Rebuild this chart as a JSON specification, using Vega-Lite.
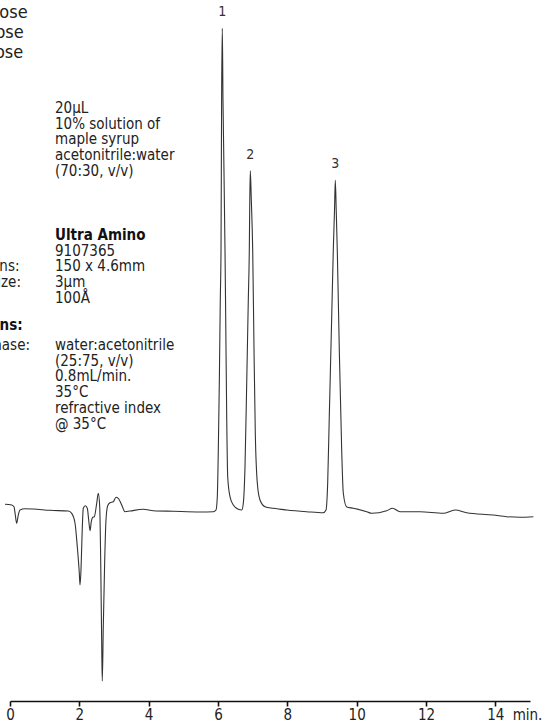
{
  "$schema": "https://vega.github.io/schema/vega-lite/v6.json",
  "width": 520,
  "height": 701,
  "autosize": {"type": "none"},
  "padding": {"left": 10, "right": 13, "top": 0, "bottom": 22},
  "background": "white",
  "config": {"view": {"stroke": null}, "font": "DejaVu Sans Condensed, Roboto, sans-serif"},
  "datasets": {
    "trace": [
      {"time": -0.144, "signal": 7.7}, {"time": 0.049, "signal": 7.0}, {"time": 0.115, "signal": 5.3},
      {"time": 0.153, "signal": -3.0}, {"time": 0.193, "signal": -11.3}, {"time": 0.239, "signal": -3.0},
      {"time": 0.288, "signal": 2.0}, {"time": 0.433, "signal": 3.3}, {"time": 0.672, "signal": 3.0},
      {"time": 1.154, "signal": 1.7}, {"time": 1.682, "signal": 1.0}, {"time": 1.78, "signal": -1.3},
      {"time": 1.875, "signal": -11.0}, {"time": 1.941, "signal": -34.7}, {"time": 1.999, "signal": -61.0},
      {"time": 2.019, "signal": -73.0}, {"time": 2.048, "signal": -58.0}, {"time": 2.077, "signal": -24.7},
      {"time": 2.114, "signal": 3.7}, {"time": 2.172, "signal": 6.3}, {"time": 2.23, "signal": 3.7},
      {"time": 2.27, "signal": -8.0}, {"time": 2.308, "signal": -18.7}, {"time": 2.345, "signal": -9.7},
      {"time": 2.386, "signal": -5.3}, {"time": 2.432, "signal": -4.7}, {"time": 2.501, "signal": 8.7},
      {"time": 2.547, "signal": 18.7}, {"time": 2.588, "signal": 5.3}, {"time": 2.616, "signal": -48.0},
      {"time": 2.645, "signal": -131.0}, {"time": 2.662, "signal": -169.0}, {"time": 2.691, "signal": -114.7},
      {"time": 2.732, "signal": -48.0}, {"time": 2.769, "signal": -8.0}, {"time": 2.818, "signal": 6.3},
      {"time": 2.885, "signal": 9.3}, {"time": 2.98, "signal": 10.3}, {"time": 3.058, "signal": 14.7},
      {"time": 3.124, "signal": 13.7}, {"time": 3.222, "signal": 7.0}, {"time": 3.317, "signal": 0.3},
      {"time": 3.462, "signal": 1.0}, {"time": 3.845, "signal": 2.7}, {"time": 4.134, "signal": 1.3},
      {"time": 4.711, "signal": 0.7}, {"time": 5.481, "signal": 0.0}, {"time": 5.864, "signal": 0.3},
      {"time": 5.942, "signal": 2.0}, {"time": 5.98, "signal": 15.3}, {"time": 6.009, "signal": 62.0},
      {"time": 6.038, "signal": 129.0}, {"time": 6.066, "signal": 212.0}, {"time": 6.087, "signal": 262.0},
      {"time": 6.104, "signal": 412.0}, {"time": 6.124, "signal": 483.7}, {"time": 6.144, "signal": 412.0},
      {"time": 6.164, "signal": 362.0}, {"time": 6.202, "signal": 262.0}, {"time": 6.222, "signal": 195.3},
      {"time": 6.251, "signal": 95.3}, {"time": 6.28, "signal": 35.3}, {"time": 6.346, "signal": 15.3},
      {"time": 6.441, "signal": 7.0}, {"time": 6.586, "signal": 2.7}, {"time": 6.684, "signal": 2.0},
      {"time": 6.73, "signal": 8.7}, {"time": 6.779, "signal": 45.3}, {"time": 6.828, "signal": 128.7},
      {"time": 6.874, "signal": 212.0}, {"time": 6.903, "signal": 262.0}, {"time": 6.917, "signal": 312.0},
      {"time": 6.932, "signal": 341.3}, {"time": 6.961, "signal": 312.0}, {"time": 7.001, "signal": 262.0},
      {"time": 7.039, "signal": 162.0}, {"time": 7.076, "signal": 79.0}, {"time": 7.134, "signal": 29.0},
      {"time": 7.212, "signal": 12.0}, {"time": 7.356, "signal": 5.3}, {"time": 7.595, "signal": 3.7},
      {"time": 7.982, "signal": 2.0}, {"time": 8.559, "signal": 0.3}, {"time": 9.038, "signal": -0.7},
      {"time": 9.115, "signal": 2.0}, {"time": 9.164, "signal": 29.0}, {"time": 9.21, "signal": 95.3},
      {"time": 9.28, "signal": 195.3}, {"time": 9.326, "signal": 262.0}, {"time": 9.361, "signal": 302.0},
      {"time": 9.384, "signal": 331.7}, {"time": 9.41, "signal": 302.0}, {"time": 9.441, "signal": 262.0},
      {"time": 9.499, "signal": 162.0}, {"time": 9.568, "signal": 62.0}, {"time": 9.614, "signal": 19.0},
      {"time": 9.713, "signal": 5.0}, {"time": 9.903, "signal": 3.7}, {"time": 10.29, "signal": 0.3},
      {"time": 10.434, "signal": -1.3}, {"time": 10.866, "signal": 1.3}, {"time": 11.039, "signal": 3.7},
      {"time": 11.25, "signal": 0.3}, {"time": 11.827, "signal": 0.3}, {"time": 12.499, "signal": -1.3},
      {"time": 12.837, "signal": 2.0}, {"time": 13.174, "signal": -0.7}, {"time": 13.941, "signal": -3.0},
      {"time": 14.328, "signal": -4.7}, {"time": 14.712, "signal": -5.3}, {"time": 15.096, "signal": -4.7}
    ],
    "peaks": [
      {"peak": "1", "time": 6.124, "signal": 483.7},
      {"peak": "2", "time": 6.932, "signal": 341.3},
      {"peak": "3", "time": 9.384, "signal": 331.7}
    ],
    "peakList": [
      {"time": -2.06, "signal": 494, "text": "1. Fructose"},
      {"time": -2.06, "signal": 474, "text": "2. Glucose"},
      {"time": -2.06, "signal": 454, "text": "3. Sucrose"}
    ],
    "notes": [
      {"time": 1.298, "signal": 399, "text": "20µL"},
      {"time": 1.298, "signal": 383.3, "text": "10% solution of"},
      {"time": 1.298, "signal": 367.6, "text": "maple syrup"},
      {"time": 1.298, "signal": 351.9, "text": "acetonitrile:water"},
      {"time": 1.298, "signal": 336.2, "text": "(70:30, v/v)"},
      {"time": 1.298, "signal": 256.4, "text": "9107365"},
      {"time": 1.298, "signal": 240.7, "text": "150 x 4.6mm"},
      {"time": 1.298, "signal": 225, "text": "3µm"},
      {"time": 1.298, "signal": 209.3, "text": "100Å"},
      {"time": 1.298, "signal": 162, "text": "water:acetonitrile"},
      {"time": 1.298, "signal": 146.3, "text": "(25:75, v/v)"},
      {"time": 1.298, "signal": 130.6, "text": "0.8mL/min."},
      {"time": 1.298, "signal": 114.9, "text": "35°C"},
      {"time": 1.298, "signal": 99.2, "text": "refractive index"},
      {"time": 1.298, "signal": 83.5, "text": "@ 35°C"},
      {"time": -2.13, "signal": 240.7, "text": "Dimensions:"},
      {"time": -2.13, "signal": 225, "text": "Particle size:"},
      {"time": -2.13, "signal": 209.3, "text": "Pore size:"},
      {"time": -2.13, "signal": 162, "text": "Mobile phase:"}
    ],
    "headers": [
      {"time": 1.298, "signal": 272.1, "text": "Ultra Amino"},
      {"time": -2.13, "signal": 182, "text": "Conditions:"}
    ]
  },
  "encoding": {
    "x": {
      "field": "time",
      "type": "quantitative",
      "scale": {"domain": [0, 15], "nice": false, "zero": false},
      "axis": {
        "title": null,
        "values": [0, 2, 4, 6, 8, 10, 12, 14, 15],
        "labelExpr": "datum.value == 15 ? 'min.' : datum.label",
        "grid": false,
        "domainColor": "#111",
        "domainWidth": 1.6,
        "tickColor": "#111",
        "tickWidth": 1.6,
        "tickSize": 5,
        "tickOpacity": {"condition": {"test": "datum.value == 15", "value": 0}, "value": 1},
        "labelOffset": {"condition": {"test": "datum.value == 15", "value": -3}, "value": 0},
        "labelFont": "DejaVu Sans Condensed, Roboto, sans-serif",
        "labelFontSize": 15,
        "labelColor": "#222",
        "labelPadding": 1,
        "labelFlush": false,
        "labelOverlap": false,
        "labelBound": false
      }
    },
    "y": {
      "field": "signal",
      "type": "quantitative",
      "scale": {"domain": [-189, 512], "nice": false, "zero": false},
      "axis": null
    }
  },
  "layer": [
    {
      "data": {"name": "trace"},
      "mark": {"type": "line", "color": "#333", "strokeWidth": 1.1, "interpolate": "monotone", "clip": false}
    },
    {
      "data": {"name": "peaks"},
      "mark": {"type": "text", "dy": -16, "align": "center", "baseline": "middle", "fontSize": 14, "color": "#333", "font": "DejaVu Sans Condensed, Roboto, sans-serif"},
      "encoding": {"text": {"field": "peak"}}
    },
    {
      "data": {"name": "peakList"},
      "mark": {"type": "text", "align": "left", "baseline": "alphabetic", "fontSize": 18, "color": "#222", "font": "DejaVu Sans Condensed, Roboto, sans-serif"},
      "encoding": {"text": {"field": "text"}}
    },
    {
      "data": {"name": "notes"},
      "mark": {"type": "text", "align": "left", "baseline": "alphabetic", "fontSize": 15, "color": "#222", "font": "DejaVu Sans Condensed, Roboto, sans-serif"},
      "encoding": {"text": {"field": "text"}}
    },
    {
      "data": {"name": "headers"},
      "mark": {"type": "text", "align": "left", "baseline": "alphabetic", "fontSize": 15, "fontWeight": "bold", "color": "#111", "font": "DejaVu Sans Condensed, Roboto, sans-serif"},
      "encoding": {"text": {"field": "text"}}
    }
  ]
}
